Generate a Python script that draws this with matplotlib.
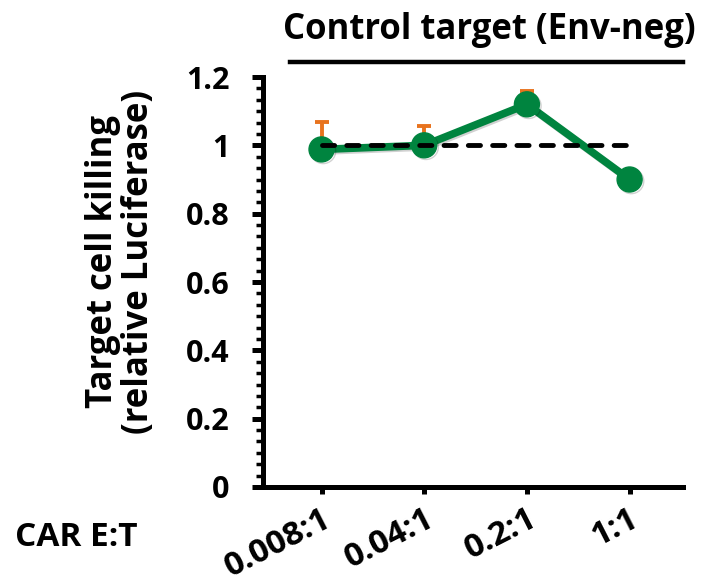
import matplotlib
matplotlib.use("Agg")
import matplotlib.pyplot as plt
from matplotlib.ticker import MultipleLocator
import matplotlib.patheffects as pe

# values
ratios = ["0.008:1", "0.04:1", "0.2:1", "1:1"]
killing = [0.988, 1.0, 1.12, 0.90]
err_up = [0.08, 0.058, 0.04, 0.0]
baseline = 1.0

plt.rcParams['font.family'] = ['Open Sans', 'DejaVu Sans']
plt.rcParams['font.weight'] = 'bold'

fig = plt.figure(figsize=(7.05, 5.85), dpi=100)
ax = fig.add_axes([263 / 705, 98 / 585, 420 / 705, 410 / 585])

x = list(range(len(ratios)))
green = '#00843F'
orange = '#E8731E'

ax.errorbar(x, killing, yerr=[[0] * len(x), err_up], fmt='none',
            ecolor=orange, elinewidth=2.8, capsize=5, capthick=2.8, zorder=2)
ax.plot(x, killing, color=green, lw=5.5, marker='o', markersize=18,
        zorder=3,
        path_effects=[pe.SimpleLineShadow(offset=(1.2, -1.2), alpha=0.18),
                      pe.Normal()])
ax.plot([x[0], x[-1]], [baseline, baseline], color='black', lw=3.5,
        linestyle=(0, (2.5, 2.5)), dash_capstyle='round', zorder=4)

ax.set_xlim(-0.57, 3.52)
ax.set_ylim(0, 1.2)
ax.set_xticks(x)
ax.set_xticklabels(ratios, rotation=27, ha='right', rotation_mode='anchor',
                   fontsize=24, fontweight='bold')
ax.set_yticks([0, 0.2, 0.4, 0.6, 0.8, 1.0, 1.2])
ax.set_yticklabels(['0', '0.2', '0.4', '0.6', '0.8', '1', '1.2'],
                   fontsize=22, fontweight='bold')
ax.yaxis.set_minor_locator(MultipleLocator(0.2 / 6))

for side in ['top', 'right']:
    ax.spines[side].set_visible(False)
for side in ['left', 'bottom']:
    ax.spines[side].set_linewidth(3.6)
    ax.spines[side].set_capstyle('projecting')

ax.tick_params(axis='y', which='major', length=8, width=3.6, pad=16)
ax.tick_params(axis='y', which='minor', length=5, width=2.5)
ax.tick_params(axis='x', which='major', length=5, width=3.6, pad=6)

fig.text(121 / 705, 1 - 262 / 585, 'Target cell killing\n(relative Luciferase)',
         rotation=90, ha='center', va='center', fontsize=25,
         fontweight='bold', linespacing=1.0)

fig.text(489 / 705, 1 - 30 / 585, 'Control target (Env-neg)', ha='center',
         va='center', fontsize=25, fontweight='bold')
fig.add_artist(plt.Line2D([290 / 705, 683 / 705], [1 - 62 / 585, 1 - 62 / 585],
                          color='black', lw=3.2))
fig.text(15 / 705, 1 - 537 / 585, 'CAR E:T', ha='left', va='center',
         fontsize=24, fontweight='bold')

fig.savefig('out.png', dpi=100)
